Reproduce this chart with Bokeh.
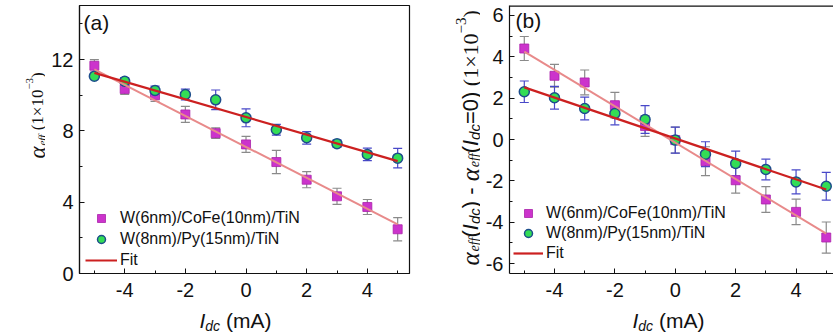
import numpy as np
from bokeh.plotting import figure
from bokeh.models import (ColumnDataSource, Whisker, Label, Legend, LegendItem,
                          FixedTicker, Range1d, TeeHead, Span)
from bokeh.layouts import row, column
from bokeh.embed import file_html
from bokeh.resources import INLINE

# ---------------- data ----------------
current = [-5, -4, -3, -2, -1, 0, 1, 2, 3, 4, 5]

a_cofe = [11.65, 10.35, 10.0, 8.92, 7.87, 7.24, 6.25, 5.26, 4.33, 3.73, 2.48]
a_cofe_err = [0.35, 0.3, 0.35, 0.45, 0.3, 0.45, 0.65, 0.45, 0.45, 0.42, 0.65]
a_py = [11.06, 10.78, 10.26, 10.04, 9.74, 8.73, 8.06, 7.61, 7.28, 6.68, 6.47]
a_py_err = [0.15, 0.2, 0.25, 0.3, 0.55, 0.5, 0.3, 0.35, 0.2, 0.35, 0.55]
fit_x = [-5, 5]
a_fit_cofe = [11.45, 2.75]
a_fit_py = [11.25, 6.3]

b_cofe = [4.40, 3.08, 2.76, 1.66, 0.65, -0.03, -1.05, -1.97, -2.90, -3.50, -4.74]
b_cofe_err = [0.58, 0.55, 0.6, 0.62, 0.5, 0.63, 0.7, 0.62, 0.62, 0.62, 0.75]
b_py = [2.31, 2.02, 1.50, 1.26, 0.97, -0.03, -0.71, -1.16, -1.45, -2.05, -2.26]
b_py_err = [0.52, 0.55, 0.55, 0.55, 0.67, 0.63, 0.6, 0.6, 0.5, 0.58, 0.67]
b_fit_cofe = [4.25, -4.55]
b_fit_py = [2.52, -2.42]

x_ticks = [-4, -2, 0, 2, 4]
x_minor = [-5, -3, -1, 1, 3, 5]
a_y_ticks = [0, 4, 8, 12]
a_y_minor = [2, 6, 10, 14]
b_y_ticks = [-6, -4, -2, 0, 2, 4, 6]
b_y_minor = [-5, -3, -1, 1, 3, 5]

label_cofe = "W(6nm)/CoFe(10nm)/TiN"
label_py = "W(8nm)/Py(15nm)/TiN"
label_fit = "Fit"

# ---------------- styles ----------------
SQ_FILL = "#cc33cc"
SQ_LINE = "#aa22aa"
CI_FILL = "#33dd55"
CI_LINE = "#1d4d8c"
SQ_ERR = "#8a8a8a"
CI_ERR = "#4848c8"
FIT_LIGHT = "#e88a8a"
FIT_DARK = "#cc2020"
INK = "#111111"
SANS = "Liberation Sans"
SERIF = "Liberation Serif"

TOP_H = 305      # height of the top row
FRAME_TOP = 5    # border above the plot frames
FRAME_BOT = 32   # border below the plot frames (x tick labels)
FRAME_H = TOP_H - FRAME_TOP - FRAME_BOT
BOT_H = 29       # strip with the x titles

W = {
    SANS: {'(': .333, ')': .333, '-': .333, ' ': .278, '=': .584, 'm': .833,
           'A': .667, 'I': .278, 'd': .556, 'c': .5},
    SERIF: {'(': .333, ')': .333, ' ': .25, '×': .564, '−': .564, 'e': .444,
            'f': .278, 'α': .56},
}


def text_w(s, font, size):
    tbl = W[font]
    tot = 0.0
    for ch in s:
        if ch.isdigit():
            tot += .556 if font == SANS else .5
        else:
            tot += tbl.get(ch, .55)
    return tot * size


def rich(p, segs, x0, y0, vertical):
    """Lay out mixed-style text segments (data units == pixels)."""
    pos = 0.0
    for text, font, size, style, shift in segs:
        lead = len(text) - len(text.lstrip(" "))
        pos += text_w(" " * lead, font, size)
        body = text.strip(" ")
        if vertical:
            lab = Label(x=x0 + shift, y=y0 + pos, angle=np.pi / 2)
        else:
            lab = Label(x=x0 + pos, y=y0 - shift)
        lab.text = body
        lab.text_font = font
        lab.text_font_size = f"{size}px"
        lab.text_font_style = style
        lab.text_align = "left"
        lab.text_baseline = "alphabetic"
        lab.text_color = INK
        p.add_layout(lab)
        pos += text_w(text.lstrip(" "), font, size)


def blank_fig(width, height, yr_h):
    p = figure(width=width, height=height, x_range=Range1d(0, width),
               y_range=Range1d(0, yr_h), output_backend="svg",
               toolbar_location=None, x_axis_location=None, y_axis_location=None,
               min_border=0, min_border_left=0, min_border_right=0,
               min_border_top=0, min_border_bottom=0)
    p.xgrid.visible = False
    p.ygrid.visible = False
    p.outline_line_color = None
    return p


def make_fig(width, left, right, xr, yr, yt, ym):
    p = figure(width=width, height=TOP_H, x_range=Range1d(*xr), y_range=Range1d(*yr),
               output_backend="svg", toolbar_location=None,
               min_border_left=left, min_border_right=right,
               min_border_top=FRAME_TOP, min_border_bottom=FRAME_BOT)
    p.xgrid.visible = False
    p.ygrid.visible = False
    p.outline_line_color = INK
    p.outline_line_width = 1.2
    p.xaxis.ticker = FixedTicker(ticks=x_ticks, minor_ticks=x_minor)
    p.yaxis.ticker = FixedTicker(ticks=yt, minor_ticks=ym)
    p.xaxis.major_label_overrides = {float(t): str(t) for t in x_ticks}
    p.yaxis.major_label_overrides = {float(t): str(t) for t in yt}
    for ax in (p.xaxis[0], p.yaxis[0]):
        ax.axis_line_color = INK
        ax.axis_line_width = 1.2
        ax.major_tick_in = 5
        ax.major_tick_out = 0
        ax.minor_tick_in = 3
        ax.minor_tick_out = 0
        ax.major_tick_line_color = INK
        ax.minor_tick_line_color = INK
        ax.major_label_text_font = SANS
        ax.major_label_text_font_size = "20px"
        ax.major_label_text_color = INK
    p.xaxis.major_label_standoff = 9
    p.yaxis.major_label_standoff = 6
    return p


def draw(p, cofe, cofe_err, py, py_err, fit_cofe, fit_py, legend_loc, glyph_w, spacing):
    s1 = ColumnDataSource(dict(x=current, y=cofe,
                               lo=[v - e for v, e in zip(cofe, cofe_err)],
                               hi=[v + e for v, e in zip(cofe, cofe_err)]))
    s2 = ColumnDataSource(dict(x=current, y=py,
                               lo=[v - e for v, e in zip(py, py_err)],
                               hi=[v + e for v, e in zip(py, py_err)]))
    for src, col in ((s1, SQ_ERR), (s2, CI_ERR)):
        w = Whisker(base="x", upper="hi", lower="lo", source=src,
                    line_color=col, line_width=1.2,
                    upper_head=TeeHead(size=9, line_color=col, line_width=1.2),
                    lower_head=TeeHead(size=9, line_color=col, line_width=1.2))
        p.add_layout(w)
    r_sq = p.scatter("x", "y", source=s1, marker="square", size=9,
                     fill_color=SQ_FILL, line_color=SQ_LINE, line_width=0.8)
    r_ci = p.scatter("x", "y", source=s2, marker="circle", size=10,
                     fill_color=CI_FILL, line_color=CI_LINE, line_width=1.5)
    p.line(fit_x, fit_cofe, line_color=FIT_LIGHT, line_width=2)
    r_fit = p.line(fit_x, fit_py, line_color=FIT_DARK, line_width=2.2)
    leg = Legend(items=[LegendItem(label=label_cofe, renderers=[r_sq]),
                        LegendItem(label=label_py, renderers=[r_ci]),
                        LegendItem(label=label_fit, renderers=[r_fit])],
                 location=legend_loc, orientation="vertical",
                 border_line_color=None, background_fill_alpha=0,
                 padding=0, margin=0, spacing=spacing,
                 glyph_height=20, glyph_width=glyph_w, label_height=20,
                 label_standoff=3, label_text_font=SANS,
                 label_text_font_size="16px", label_text_color=INK)
    p.add_layout(leg)


# ---------------- panel (a) ----------------
ta = blank_fig(45, TOP_H, FRAME_H)
pa = make_fig(375, 34, 11, (-5.49, 5.39), (0, 15.03), a_y_ticks, a_y_minor)
draw(pa, a_cofe, a_cofe_err, a_py, a_py_err, a_fit_cofe, a_fit_py, (6, 3), 32, 1)
pa.add_layout(Label(x=-5.49, y=15.03, x_offset=4, y_offset=-5, text="(a)",
                    text_font=SANS, text_font_size="21px", text_baseline="top",
                    text_color=INK))
rich(ta, [("α", SERIF, 23, "italic", 0),
          ("eff", SERIF, 11, "italic", 4),
          (" (1×10", SERIF, 17, "normal", 0),
          ("−3", SERIF, 11, "normal", -8),
          (")", SERIF, 17, "normal", 0)], 37, 115, True)

# ---------------- panel (b) ----------------
tb = blank_fig(60, TOP_H, FRAME_H)
pb = make_fig(353, 29, 0, (-5.49, 5.24), (-6.48, 6.48), b_y_ticks, b_y_minor)
pb.outline_line_color = None
pb.add_layout(Span(location=6.48, dimension="width", line_color=INK, line_width=2.4))
draw(pb, b_cofe, b_cofe_err, b_py, b_py_err, b_fit_cofe, b_fit_py, (4, 10), 30, 0)
pb.add_layout(Label(x=-5.49, y=6.48, x_offset=6, y_offset=-3, text="(b)",
                    text_font=SANS, text_font_size="21px", text_baseline="top",
                    text_color=INK))
rich(tb, [("α", SERIF, 25, "italic", 0),
          ("eff", SERIF, 14, "italic", 4),
          ("(", SANS, 22, "normal", 0),
          ("I", SANS, 22, "italic", 0),
          ("dc", SANS, 15, "italic", 4),
          (") - ", SANS, 22, "normal", 0),
          ("α", SERIF, 25, "italic", 0),
          ("eff", SERIF, 14, "italic", 4),
          ("(", SANS, 22, "normal", 0),
          ("I", SANS, 22, "italic", 0),
          ("dc", SANS, 15, "italic", 4),
          ("=0)", SANS, 22, "normal", 0),
          (" (1×10", SERIF, 22, "normal", 0),
          ("−3", SERIF, 15, "normal", -10),
          (")", SERIF, 22, "normal", 0)], 50, 8, True)

# ---------------- x titles ----------------
xt = blank_fig(833, BOT_H, BOT_H)
rich(xt, [("I", SANS, 21, "italic", 0),
          ("dc", SANS, 14, "italic", 5),
          (" (mA)", SANS, 21, "normal", 0)], 199, 14, False)
rich(xt, [("I", SANS, 21, "italic", 0),
          ("dc", SANS, 14, "italic", 5),
          (" (mA)", SANS, 21, "normal", 0)], 632, 14, False)

layout = column(row(ta, pa, tb, pb, spacing=0), xt, spacing=0)
open("out.html", "w").write(file_html(layout, INLINE))
